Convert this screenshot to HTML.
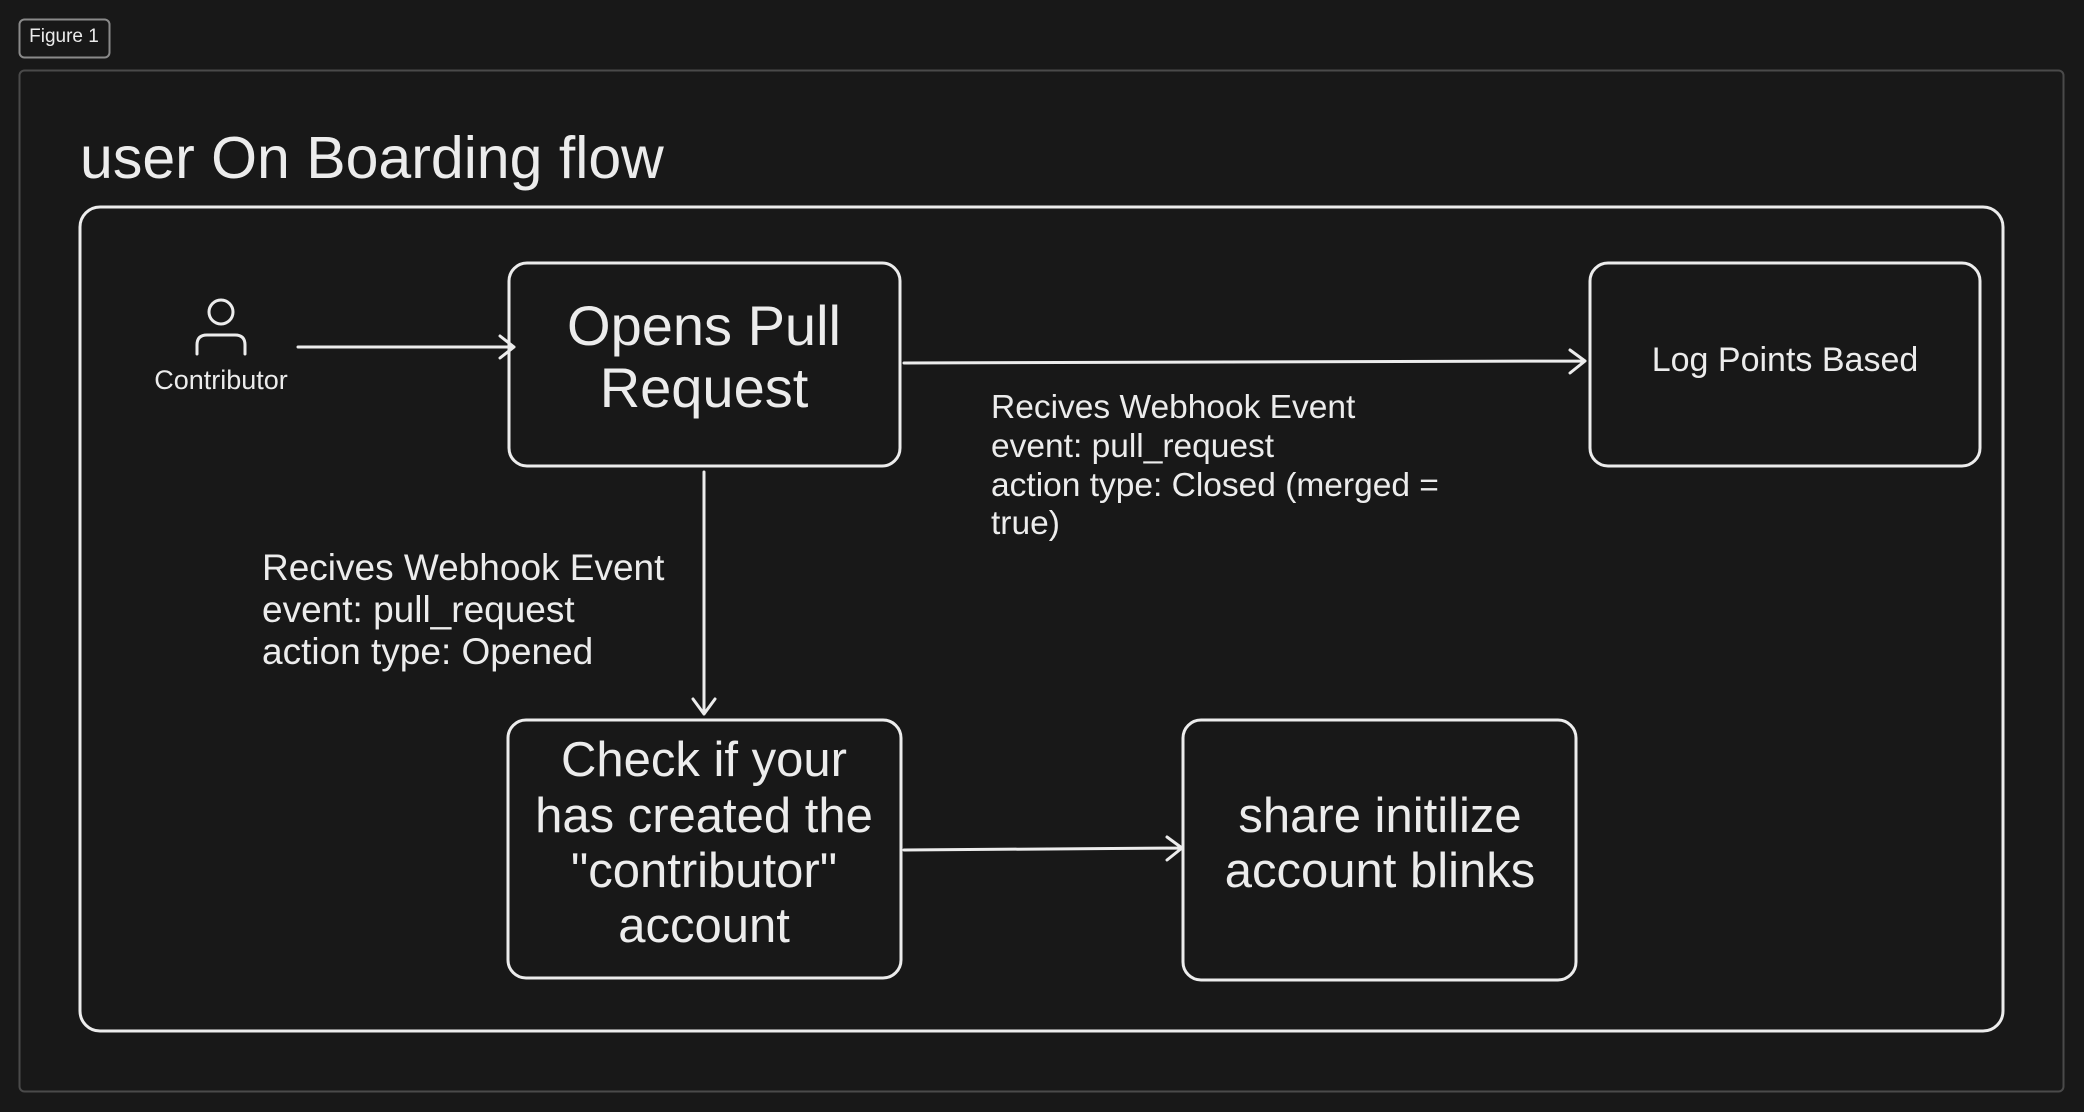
<!DOCTYPE html>
<html><head><meta charset="utf-8"><style>
html,body{margin:0;padding:0;background:#181818;}
svg{display:block}
text{font-family:"Liberation Sans",Arial,sans-serif;fill:#ececec}
</style></head><body>
<svg width="2084" height="1112" viewBox="0 0 2084 1112" xmlns="http://www.w3.org/2000/svg">
<rect width="2084" height="1112" fill="#181818"/>
<rect x="19.5" y="19.5" width="90" height="38" rx="5" fill="none" stroke="#8a8a8a" stroke-width="2"/>
<text x="64" y="42" font-size="19" text-anchor="middle">Figure 1</text>
<rect x="19.5" y="70.5" width="2044" height="1021" rx="5" fill="none" stroke="#4a4a4a" stroke-width="2"/>
<text x="80" y="178" font-size="59">user On Boarding flow</text>
<rect x="80" y="207" width="1923" height="824" rx="20" fill="none" stroke="#ececec" stroke-width="3"/>
<g fill="none" stroke="#ececec" stroke-width="3" stroke-linecap="round" stroke-linejoin="round">
<circle cx="221" cy="312" r="12"/>
<path d="M197 354 V345 Q197 335 207 335 H235 Q245 335 245 345 V354"/>
<path d="M298 347 H514 M500 336 L514 347 L500 358"/>
<rect x="509" y="263" width="391" height="203" rx="18"/>
<path d="M904 363 L1585 361 M1570 350 L1585 361 L1570 373"/>
<rect x="1590" y="263" width="390" height="203" rx="18"/>
<path d="M704 472 V714 M693 699 L704 714 L715 699"/>
<rect x="508" y="720" width="393" height="258" rx="18"/>
<path d="M904 850 L1182 848 M1167 837 L1182 848 L1167 860"/>
<rect x="1183" y="720" width="393" height="260" rx="18"/>
</g>
<text x="221" y="389" font-size="27" text-anchor="middle">Contributor</text>
<text x="704" y="345" font-size="56" text-anchor="middle">Opens Pull</text>
<text x="704" y="407" font-size="56" text-anchor="middle">Request</text>
<text x="1785" y="371" font-size="34" text-anchor="middle">Log Points Based</text>
<g font-size="33.5">
<text x="991" y="418">Recives Webhook Event</text>
<text x="991" y="457">event: pull_request</text>
<text x="991" y="496">action type: Closed (merged =</text>
<text x="991" y="534">true)</text>
</g>
<g font-size="37">
<text x="262" y="580">Recives Webhook Event</text>
<text x="262" y="622">event: pull_request</text>
<text x="262" y="664">action type: Opened</text>
</g>
<g font-size="49" text-anchor="middle">
<text x="704" y="776">Check if your</text>
<text x="704" y="832">has created the</text>
<text x="704" y="887">"contributor"</text>
<text x="704" y="942">account</text>
<text x="1380" y="832">share initilize</text>
<text x="1380" y="887">account blinks</text>
</g>
</svg>
</body></html>
